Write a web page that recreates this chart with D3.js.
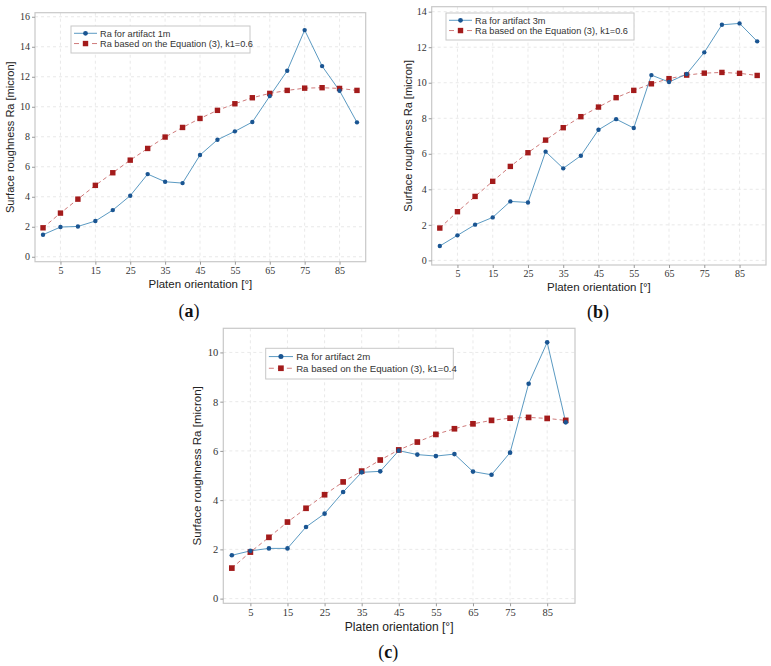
<!DOCTYPE html>
<html><head><meta charset="utf-8">
<script src="https://cdn.jsdelivr.net/npm/d3@7"></script>
<style>body{margin:0;background:#fff}svg{display:block}</style>
</head><body>
<script>
const angles = [0,5,10,15,20,25,30,35,40,45,50,55,60,65,70,75,80,85,90];
const xTicks = [5,15,25,35,45,55,65,75,85];

const measuredA = [1.47,1.98,2.02,2.38,3.11,4.07,5.51,5.0,4.91,6.78,7.8,8.36,8.98,10.71,12.4,15.11,12.71,11.07,8.96];
const modelA    = [1.93,2.91,3.84,4.76,5.6,6.44,7.22,7.98,8.62,9.22,9.76,10.2,10.6,10.89,11.09,11.24,11.27,11.22,11.09];
const measuredB = [0.81,1.41,2.01,2.42,3.32,3.26,6.12,5.18,5.89,7.35,7.95,7.45,10.43,10.04,10.49,11.71,13.26,13.34,12.33];
const modelB    = [1.82,2.74,3.60,4.45,5.29,6.06,6.77,7.47,8.09,8.63,9.16,9.57,9.94,10.23,10.43,10.54,10.58,10.53,10.41];
const measuredC = [1.76,1.94,2.04,2.04,2.91,3.45,4.33,5.13,5.17,6.01,5.85,5.79,5.87,5.16,5.03,5.93,8.73,10.41,7.16];
const modelC    = [1.24,1.89,2.49,3.11,3.67,4.22,4.74,5.18,5.63,6.04,6.36,6.67,6.90,7.10,7.24,7.33,7.36,7.32,7.24];

const yTicksA = [0,2,4,6,8,10,12,14,16];
const yTicksB = [0,2,4,6,8,10,12,14];
const yTicksC = [0,2,4,6,8,10];

const legendA = ["Ra for artifact 1m","Ra based on the Equation (3), k1=0.6"];
const legendB = ["Ra for artifact 3m","Ra based on the Equation (3), k1=0.6"];
const legendC = ["Ra for artifact 2m","Ra based on the Equation (3), k1=0.4"];
const captions = ["a","b","c"];
const xTitle = "Platen orientation [°]";
const yTitle = "Surface roughness Ra [micron]";

const svg = d3.select("body").append("svg").attr("width",771).attr("height",666);

function panel(o){
  const g = svg.append("g");
  const x = d3.scaleLinear().domain([-2.3,92.5]).range([o.left,o.right]);
  const y = d3.scaleLinear().domain(o.yDom).range([o.bottom,o.top]);
  const f = o.fs;
  // grid
  g.append("g").selectAll("line").data(xTicks).join("line")
    .attr("x1",d=>x(d)).attr("x2",d=>x(d)).attr("y1",o.top).attr("y2",o.bottom)
    .attr("stroke","#e3e3e3").attr("stroke-dasharray","3,3").attr("stroke-width",0.8);
  g.append("g").selectAll("line").data(o.yTicks).join("line")
    .attr("x1",o.left).attr("x2",o.right).attr("y1",d=>y(d)).attr("y2",d=>y(d))
    .attr("stroke","#e3e3e3").attr("stroke-dasharray","3,3").attr("stroke-width",0.8);
  // frame
  g.append("rect").attr("x",o.left).attr("y",o.top).attr("width",o.right-o.left).attr("height",o.bottom-o.top)
    .attr("fill","none").attr("stroke","#c8c8c8").attr("stroke-width",1.2);
  // axes
  const ax = g.append("g").attr("transform",`translate(0,${o.bottom})`)
    .call(d3.axisBottom(x).tickValues(xTicks).tickSize(3).tickPadding(2));
  const ay = g.append("g").attr("transform",`translate(${o.left},0)`)
    .call(d3.axisLeft(y).tickValues(o.yTicks).tickSize(3).tickPadding(2));
  [ax,ay].forEach(a=>{
    a.select(".domain").remove();
    a.selectAll("line").attr("stroke","#999");
    a.selectAll("text").attr("font-family","'Liberation Serif','DejaVu Serif',serif").attr("font-size",10*f).attr("fill","#333");
  });
  // model (red dashed)
  const line = d3.line().x((d,i)=>x(angles[i])).y(d=>y(d));
  g.append("path").datum(o.model).attr("d",line).attr("fill","none")
    .attr("stroke","#cf7b7b").attr("stroke-width",1).attr("stroke-dasharray","4,3");
  g.append("path").datum(o.meas).attr("d",line).attr("fill","none")
    .attr("stroke","#5b9ac2").attr("stroke-width",1);
  const s = 5.4*f;
  g.append("g").selectAll("rect").data(o.model).join("rect")
    .attr("x",(d,i)=>x(angles[i])-s/2).attr("y",d=>y(d)-s/2).attr("width",s).attr("height",s)
    .attr("fill","#a31b1b");
  g.append("g").selectAll("circle").data(o.meas).join("circle")
    .attr("cx",(d,i)=>x(angles[i])).attr("cy",d=>y(d)).attr("r",2.2*f)
    .attr("fill","#1a5592");
  // legend
  const L = o.legend;
  g.append("rect").attr("x",L.x).attr("y",L.y).attr("width",L.w).attr("height",L.h)
    .attr("fill","#fff").attr("stroke","#c8c8c8").attr("stroke-width",1);
  const rows = [L.y+L.h*0.27, L.y+L.h*0.65];
  const lx0 = L.x+3*f, lx1 = L.x+26*f, lmid=(lx0+lx1)/2;
  g.append("line").attr("x1",lx0).attr("x2",lx1).attr("y1",rows[0]).attr("y2",rows[0]).attr("stroke","#5b9ac2");
  g.append("circle").attr("cx",lmid).attr("cy",rows[0]).attr("r",2.4*f).attr("fill","#1a5592");
  g.append("line").attr("x1",lx0).attr("x2",lx1).attr("y1",rows[1]).attr("y2",rows[1]).attr("stroke","#cf7b7b").attr("stroke-dasharray","5,4");
  g.append("rect").attr("x",lmid-s/2).attr("y",rows[1]-s/2).attr("width",s).attr("height",s).attr("fill","#a31b1b");
  o.labels.forEach((t,i)=>g.append("text").attr("x",lx1+3*f).attr("y",rows[i]).attr("dy","0.35em")
    .attr("font-family","'Liberation Sans',Arial,sans-serif").attr("font-size",9.2*f).attr("fill","#333").text(t));
  // titles
  g.append("text").attr("x",(o.left+o.right)/2).attr("y",o.bottom+22*f).attr("dy","0.35em").attr("text-anchor","middle")
    .attr("font-family","'Liberation Sans',Arial,sans-serif").attr("font-size",11.5*f).attr("fill","#222").text(xTitle);
  g.append("text").attr("transform",`translate(${o.ylx},${(o.top+o.bottom)/2}) rotate(-90)`).attr("dy","0.35em").attr("text-anchor","middle")
    .attr("font-family","'Liberation Sans',Arial,sans-serif").attr("font-size",11*f).attr("fill","#222").text(yTitle);
  // caption
  const c = g.append("text").attr("x",o.cap[0]).attr("y",o.cap[1]).attr("dy","0.35em").attr("text-anchor","middle")
    .attr("font-family","'Liberation Serif','DejaVu Serif',serif").attr("font-size",18).attr("fill","#111");
  c.append("tspan").text("(");
  c.append("tspan").attr("font-weight","bold").text(o.capText);
  c.append("tspan").text(")");
}

panel({left:35,right:365.7,top:12.7,bottom:261.7,yDom:[-0.33,16.27],yTicks:yTicksA,meas:measuredA,model:modelA,
  legend:{x:71,y:26,w:179,h:27},labels:legendA,ylx:10,cap:[189,310.5],capText:captions[0],fs:1});
panel({left:431.7,right:766,top:6.7,bottom:265,yDom:[-0.26,14.28],yTicks:yTicksB,meas:measuredB,model:modelB,
  legend:{x:446,y:13,w:188,h:27},labels:legendB,ylx:408.3,cap:[598,311.5],capText:captions[1],fs:1});
panel({left:223.3,right:575,top:328.3,bottom:603.3,yDom:[-0.19,10.98],yTicks:yTicksC,meas:measuredC,model:modelC,
  legend:{x:265.7,y:348.3,w:187.6,h:30.7},labels:legendC,ylx:196.7,cap:[388.3,651.7],capText:captions[2],fs:1.05});
</script>
</body></html>
